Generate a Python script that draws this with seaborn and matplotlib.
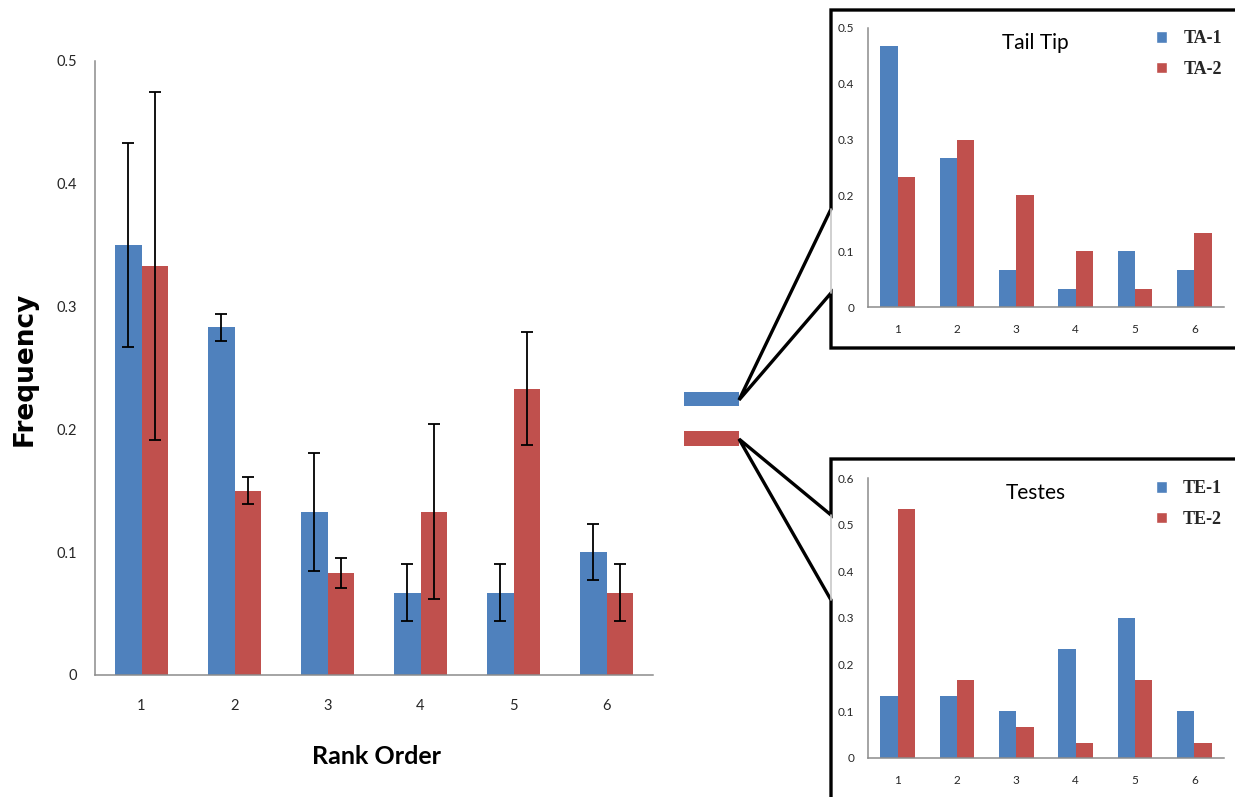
import pandas as pd
import matplotlib.pyplot as plt
import numpy as np
import seaborn as sns
from matplotlib.patches import Patch, Rectangle
from matplotlib.lines import Line2D

# data
ranks = ['1', '2', '3', '4', '5', '6']
blue_freq = [0.350, 0.283, 0.133, 0.067, 0.067, 0.100]
red_freq = [0.333, 0.150, 0.083, 0.133, 0.233, 0.067]
blue_err = [0.083, 0.011, 0.048, 0.023, 0.023, 0.023]
red_err = [0.142, 0.011, 0.012, 0.071, 0.046, 0.023]

ta1 = [0.467, 0.267, 0.067, 0.033, 0.100, 0.067]
ta2 = [0.233, 0.300, 0.200, 0.100, 0.033, 0.133]
te1 = [0.133, 0.133, 0.100, 0.233, 0.300, 0.100]
te2 = [0.533, 0.167, 0.067, 0.033, 0.167, 0.033]

BLUE = '#4F81BD'
RED = '#C0504D'
AXC = '#8c8c8c'
TXT = '#262626'

sns.set_style('white')
plt.rcParams['font.family'] = ['Lato', 'DejaVu Sans']

W, H = 1235, 797
fig = plt.figure(figsize=(W / 100, H / 100), dpi=100)


def fx(x):
    return x / W


def fy(y):
    return 1 - y / H


def long_df(a, b, names):
    return pd.DataFrame({
        'rank': ranks * 2,
        'freq': list(a) + list(b),
        'group': [names[0]] * len(ranks) + [names[1]] * len(ranks),
    })


def style_axes(ax, ymax, step, fs, xpad, ypad, ticklen):
    ax.set_xlim(-0.5, 5.5)
    ax.set_ylim(0, ymax)
    yt = np.round(np.arange(0, ymax + 1e-9, step), 1)
    ax.set_yticks(yt)
    ax.set_yticklabels(['0' if v == 0 else f'{v:.1f}' for v in yt])
    ax.set_xticks(range(len(ranks)))
    ax.set_xticklabels(ranks)
    ax.set_xticks(np.arange(-0.5, 6, 1), minor=True)
    ax.tick_params(axis='x', which='major', length=0, pad=xpad, labelsize=fs, labelcolor=TXT)
    ax.tick_params(axis='x', which='minor', length=ticklen, width=1, color=AXC, direction='out')
    ax.tick_params(axis='y', length=ticklen, width=1, color=AXC, direction='out', pad=ypad,
                   labelsize=fs, labelcolor=TXT)
    ax.set_xlabel('')
    ax.set_ylabel('')
    for s in ['top', 'right']:
        ax.spines[s].set_visible(False)
    for s in ['left', 'bottom']:
        ax.spines[s].set_color(AXC)
        ax.spines[s].set_linewidth(1.1)
    ax.set_facecolor('none')


# main chart
ax = fig.add_axes([fx(95), fy(675), fx(653) - fx(95), fy(61) - fy(675)])
df = long_df(blue_freq, red_freq, ['g1', 'g2'])
sns.barplot(data=df, x='rank', y='freq', hue='group', palette=[BLUE, RED],
            width=0.58, gap=0, saturation=1, linewidth=0, errorbar=None,
            legend=False, ax=ax)
for cont, err in zip(ax.containers, [blue_err, red_err]):
    xs = [b.get_x() + b.get_width() / 2 for b in cont]
    ys = [b.get_height() for b in cont]
    ax.errorbar(xs, ys, yerr=err, fmt='none', ecolor='black', elinewidth=1.3,
                capsize=4, capthick=1.3, zorder=5)
style_axes(ax, 0.5, 0.1, 10.5, 17, 8, 5)

fig.text(fx(377), fy(757), 'Rank Order', ha='center', va='center', fontsize=18,
         fontweight='bold', color='black')
fig.text(fx(25), fy(369), 'Frequency', ha='center', va='center', fontsize=19,
         rotation=90, fontweight='bold', family=['DejaVu Sans'], color='black')

# insets
insets = [
    (28, 307, 0.5, ta1, ta2, ['TA-1', 'TA-2'], 'Tail Tip'),
    (478, 758, 0.6, te1, te2, ['TE-1', 'TE-2'], 'Testes'),
]
for top, bot, ymax, a, b, names, title in insets:
    iax = fig.add_axes([fx(868), fy(bot), fx(1224) - fx(868), fy(top) - fy(bot)])
    sns.barplot(data=long_df(a, b, names), x='rank', y='freq', hue='group',
                palette=[BLUE, RED], width=0.58, gap=0, saturation=1, linewidth=0,
                errorbar=None, legend=False, ax=iax)
    style_axes(iax, ymax, 0.1, 8.5, 12, 7, 3)
    iax.text(0.47, 0.945, title, transform=iax.transAxes, ha='center', va='center',
             fontsize=15, color='black')
    handles = [Patch(facecolor=BLUE, label=names[0]), Patch(facecolor=RED, label=names[1])]
    iax.legend(handles=handles, loc='upper right', bbox_to_anchor=(1.04, 1.05), frameon=False,
               handlelength=0.6, handleheight=0.6, handletextpad=0.9, labelspacing=0.75,
               prop={'family': ['Liberation Serif', 'DejaVu Serif'], 'weight': 'bold', 'size': 13})

# callout shapes
fig.add_artist(Rectangle((fx(684), fy(406)), fx(739) - fx(684), fy(392) - fy(406),
                         facecolor=BLUE, edgecolor='none', transform=fig.transFigure))
fig.add_artist(Rectangle((fx(684), fy(446)), fx(739) - fx(684), fy(431) - fy(446),
                         facecolor=RED, edgecolor='none', transform=fig.transFigure))

frames = [
    [(1240, 10), (831, 10), (831, 209), (739, 400), (831, 293), (831, 348), (1240, 348)],
    [(1240, 459), (831, 459), (831, 515), (739, 439), (831, 600), (831, 805)],
]
for pts in frames:
    xs = [fx(p[0]) for p in pts]
    ys = [fy(p[1]) for p in pts]
    fig.add_artist(Line2D(xs, ys, color='black', linewidth=2.4,
                          solid_joinstyle='miter', transform=fig.transFigure))
for y0, y1 in [(209, 293), (515, 600)]:
    fig.add_artist(Line2D([fx(831), fx(831)], [fy(y0), fy(y1)], color='#c8c8c8',
                          linewidth=1.2, transform=fig.transFigure))

fig.savefig('out.png', dpi=100, facecolor='white')
